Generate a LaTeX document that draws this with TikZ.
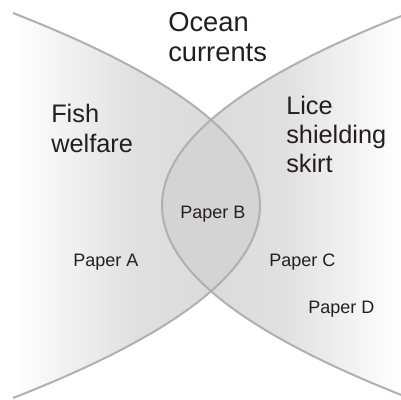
\documentclass[tikz,border=0pt]{standalone}
\usepackage{fontspec}
\setmainfont{Liberation Sans}
\usetikzlibrary{positioning}
\definecolor{edgex}{HTML}{B0B0B0}
\definecolor{shadex}{HTML}{D8D8D8}
\definecolor{lensx}{HTML}{D5D4D4}
\definecolor{inkx}{HTML}{231F20}
\tikzset{
  rim/.style={draw=edgex,line width=1.5pt},
  title/.style={font=\fontsize{20.5}{22.5}\selectfont,text=inkx,align=left,anchor=base west,inner sep=0pt},
  setname/.style={font=\fontsize{19}{22}\selectfont,text=inkx,align=left,anchor=base west,inner sep=0pt},
  paper/.style={font=\fontsize{13.5}{16}\selectfont,text=inkx,anchor=base west,inner sep=0pt}
}

\begin{document}
\begin{tikzpicture}[x=0.75pt,y=-0.75pt]
\useasboundingbox (0,0) rectangle (401,400);
\def\fishset{(13,13) .. controls (342.3,141.3) and (342.3,269.7) .. (13,398)}
\def\liceset{(409,13) .. controls (79.7,141.3) and (79.7,269.7) .. (409,398)}
% fish welfare set
\begin{scope}
  \clip \fishset -- cycle;
  \shade[left color=white,right color=shadex,middle color=shadex!80!white] (13,13) rectangle (260,398);
\end{scope}
% lice skirt set
\begin{scope}
  \clip \liceset -- cycle;
  \shade[left color=shadex,right color=white,middle color=shadex!80!white] (162,13) rectangle (401,398);
\end{scope}
% overlap
\begin{scope}
  \clip \fishset -- cycle;
  \fill[lensx] \liceset -- cycle;
\end{scope}
\draw[rim] \fishset;
\draw[rim] \liceset;

\node[title] (ocean) at (168,61.7) {Ocean\\currents};
\node[setname] (fish) at (51,152) {Fish\\welfare};
\node[setname,font=\fontsize{19}{21.75}\selectfont] (lice) at (286,172) {Lice\\shielding\\skirt};
\node[paper] (paperB) at (180,218) {Paper B};
\node[paper] (paperA) at (73,266) {Paper A};
\node[paper] (paperC) at (269,266) {Paper C};
\node[paper] (paperD) at (308,313) {Paper D};
\end{tikzpicture}
\end{document}
